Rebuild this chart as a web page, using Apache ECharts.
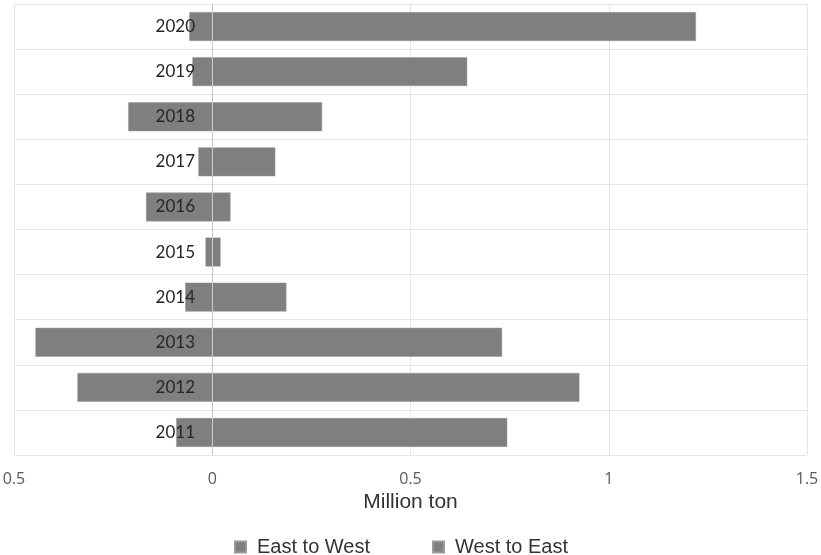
<!DOCTYPE html>
<html>
<head>
<meta charset="utf-8">
<script src="https://cdn.jsdelivr.net/npm/echarts@6/dist/echarts.min.js"></script>
<style>html,body{margin:0;padding:0;background:#fff}#c{width:821px;height:555px}</style>
</head>
<body>
<div id="c"></div>
<script>
const years = ['2011','2012','2013','2014','2015','2016','2017','2018','2019','2020'];
const eastToWest = [-0.091, -0.34, -0.446, -0.068, -0.017, -0.167, -0.035, -0.212, -0.05, -0.058];
const westToEast = [0.744, 0.926, 0.731, 0.187, 0.021, 0.046, 0.159, 0.277, 0.643, 1.22];
const xTicks = [-0.5, 0, 0.5, 1, 1.5];
const seriesNames = ['East to West', 'West to East'];

const chart = echarts.init(document.getElementById('c'));
const barColor = '#7f7f7f';
chart.setOption({
  animation: false,
  backgroundColor: '#fff',
  grid: {left: 14, right: 14, top: 4, bottom: 100, containLabel: false, outerBoundsMode: 'none'},
  legend: {
    left: 229, top: 532, itemWidth: 11, itemHeight: 11, itemGap: 62, icon: 'rect',
    textStyle: {fontFamily: 'Liberation Sans', fontSize: 20, color: '#333', padding: [0, 0, 0, 6]},
    data: seriesNames
  },
  xAxis: {
    type: 'value', min: xTicks[0], max: xTicks[xTicks.length - 1], interval: 0.5,
    name: 'Million ton', nameLocation: 'middle', nameGap: 36,
    nameTextStyle: {fontFamily: 'Liberation Sans', fontSize: 21, color: '#333'},
    axisLine: {show: false}, axisTick: {show: false},
    axisLabel: {margin: 16, fontFamily: 'Open Sans', fontSize: 16, color: '#595959',
      formatter: v => String(Math.abs(v))},
    splitLine: {show: true, lineStyle: {color: '#e6e6e6', width: 1}}
  },
  yAxis: {
    type: 'category', data: years, z: 10,
    axisLine: {show: true, onZero: true, lineStyle: {color: '#c8c8c8', width: 1}},
    axisTick: {show: false},
    axisLabel: {margin: -181, fontFamily: 'Lato', fontSize: 17, color: '#262626'},
    splitLine: {show: true, lineStyle: {color: '#e6e6e6', width: 1}}
  },
  series: [
    {name: seriesNames[0], type: 'bar', stack: 'flow', data: eastToWest, barWidth: '64%',
     itemStyle: {color: barColor, borderColor: '#999', borderWidth: 0.5}},
    {name: seriesNames[1], type: 'bar', stack: 'flow', data: westToEast, barWidth: '64%',
     itemStyle: {color: barColor, borderColor: '#999', borderWidth: 0.5}}
  ]
});
</script>
</body>
</html>
